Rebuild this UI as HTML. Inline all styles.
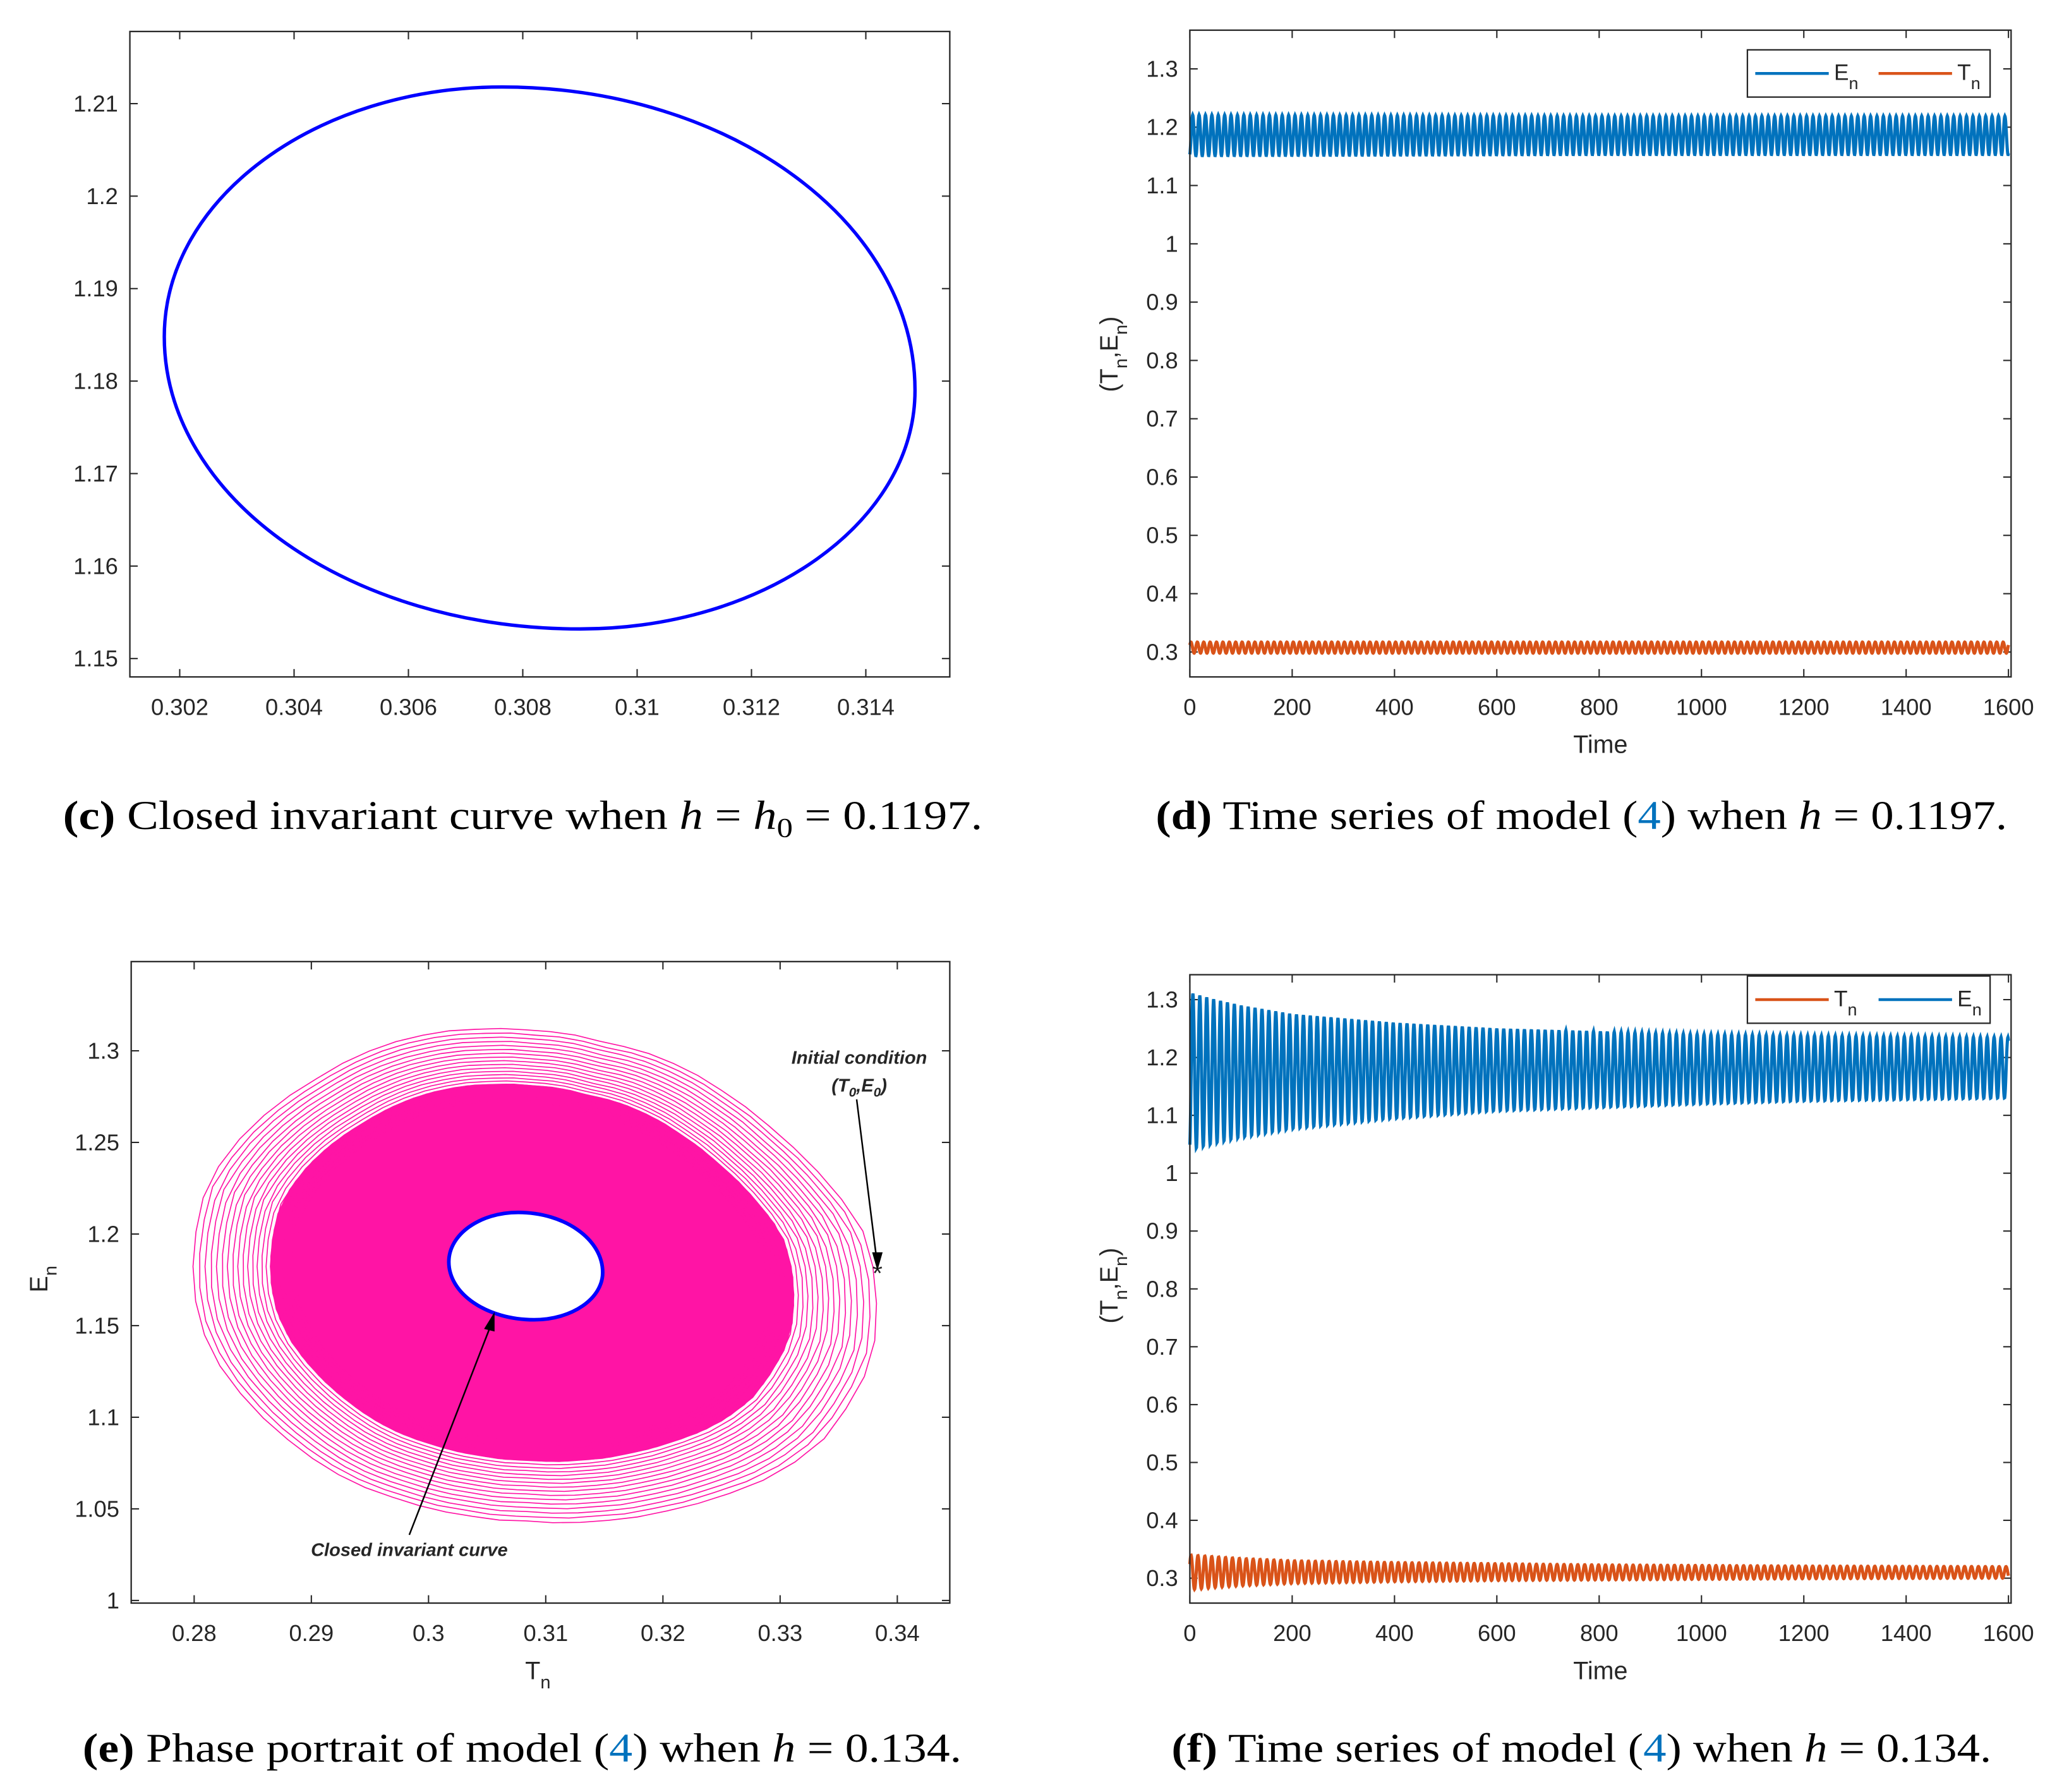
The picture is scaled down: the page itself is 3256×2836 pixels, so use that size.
<!DOCTYPE html>
<html><head><meta charset="utf-8">
<style>
html,body{margin:0;padding:0;background:#fff;}
svg{display:block;}
text{font-family:"Liberation Sans",Arial,sans-serif;fill:#262626;}
.cap{font-family:"Liberation Serif","Times New Roman",serif;fill:#000;}
</style></head>
<body>
<svg id="fig" xmlns="http://www.w3.org/2000/svg" width="3256" height="2836" viewBox="0 0 1568 1366" preserveAspectRatio="none">
<rect x="0" y="0" width="1568" height="1366" fill="#fff"/>
<text class="cap" x="48" y="632" font-size="31" textLength="701" lengthAdjust="spacingAndGlyphs"><tspan font-weight="bold">(c)</tspan> Closed invariant curve when <tspan font-style="italic">h</tspan> = <tspan font-style="italic">h</tspan><tspan font-size="21" dy="6">0</tspan><tspan dy="-6"> = 0.1197.</tspan></text>
<text class="cap" x="881" y="632" font-size="31" textLength="649" lengthAdjust="spacingAndGlyphs"><tspan font-weight="bold">(d)</tspan> Time series of model (<tspan fill="#0072BD">4</tspan>) when <tspan font-style="italic">h</tspan> = 0.1197.</text>
<text class="cap" x="63" y="1343" font-size="31" textLength="670" lengthAdjust="spacingAndGlyphs"><tspan font-weight="bold">(e)</tspan> Phase portrait of model (<tspan fill="#0072BD">4</tspan>) when <tspan font-style="italic">h</tspan> = 0.134.</text>
<text class="cap" x="893" y="1343" font-size="31" textLength="625" lengthAdjust="spacingAndGlyphs"><tspan font-weight="bold">(f)</tspan> Time series of model (<tspan fill="#0072BD">4</tspan>) when <tspan font-style="italic">h</tspan> = 0.134.</text>
</svg>
<script>
// ---- data ----
// extreme points of the closed invariant curve: left, top, right, bottom
const curveT = [0.30173,0.30764,0.31486,0.30900];
const curveE = [1.1848,1.2118,1.1790,1.1532];
const outerT = [0.27989,0.28011,0.28107,0.28376,0.28644,0.29020,0.29449,0.29932,0.30442,0.30898,0.31515,0.32132,0.32562,0.32991,0.33420,0.33689,0.33807,0.33823,0.33785,0.33582,0.33367,0.32991,0.32454,0.31972,0.31435,0.30871,0.30308,0.29771,0.29234,0.28859,0.28483,0.28215,0.28054];
const outerE = [1.1748,1.1993,1.2265,1.2510,1.2673,1.2837,1.2986,1.3082,1.3117,1.3109,1.3041,1.2918,1.2755,1.2537,1.2265,1.2047,1.1775,1.1557,1.1312,1.1067,1.0876,1.0699,1.0563,1.0482,1.0435,1.0435,1.0468,1.0550,1.0686,1.0849,1.1067,1.1285,1.1503];
const initT = 0.3383, initE = 1.180;
const cXTicks = [0.302,0.304,0.306,0.308,0.31,0.312,0.314];
const cXLabels = ["0.302","0.304","0.306","0.308","0.31","0.312","0.314"];
const cYTicks = [1.15,1.16,1.17,1.18,1.19,1.2,1.21];
const cYLabels = ["1.15","1.16","1.17","1.18","1.19","1.2","1.21"];
const eXTicks = [0.28,0.29,0.3,0.31,0.32,0.33,0.34];
const eXLabels = ["0.28","0.29","0.3","0.31","0.32","0.33","0.34"];
const eYTicks = [1,1.05,1.1,1.15,1.2,1.25,1.3];
const eYLabels = ["1","1.05","1.1","1.15","1.2","1.25","1.3"];
const tsXTicks = [0,200,400,600,800,1000,1200,1400,1600];
const tsXLabels = ["0","200","400","600","800","1000","1200","1400","1600"];
const tsYTicks = [0.3,0.4,0.5,0.6,0.7,0.8,0.9,1,1.1,1.2,1.3];
const tsYLabels = ["0.3","0.4","0.5","0.6","0.7","0.8","0.9","1","1.1","1.2","1.3"];
const dTimes = [0,400,800,1200,1600];
const dEUpper = [1.221,1.220,1.219,1.219,1.219];
const dELower = [1.151,1.152,1.153,1.153,1.153];
const dTUpper = [0.317,0.317,0.317,0.317,0.317];
const dTLower = [0.298,0.298,0.298,0.298,0.298];
const dPeriod = 12.5;
const fTimes = [0,50,100,200,400,600,800,1000,1200,1600];
const fEUpper = [1.312,1.300,1.290,1.275,1.260,1.250,1.245,1.240,1.238,1.235];
const fELower = [1.040,1.052,1.062,1.077,1.095,1.108,1.114,1.120,1.125,1.130];
const fTUpper = [0.340,0.337,0.334,0.330,0.327,0.325,0.323,0.322,0.321,0.320];
const fTLower = [0.280,0.284,0.287,0.291,0.294,0.296,0.297,0.298,0.299,0.300];
const fPeriod = 13.5;

const svg = document.getElementById('fig');
const NS = 'http://www.w3.org/2000/svg';
function mk(tag, attrs, name, parent){
  const e = document.createElementNS(NS, tag);
  for (const k in attrs) e.setAttribute(k, attrs[k]);
  
  
  (parent||svg).appendChild(e);
  return e;
}
function lin(d0,d1,p0,p1){ return v => p0 + (v-d0)/(d1-d0)*(p1-p0); }

function axes(o){
  const g = mk('g',{},o.name);
  const L=o.x0,R=o.x1,T=o.y0,B=o.y1,tl=6;
  o.xt.forEach((v,i)=>{
    const x=o.sx(v);
    mk('line',{x1:x,y1:B,x2:x,y2:B-tl,stroke:'#262626','stroke-width':1},'x-tick',g);
    mk('line',{x1:x,y1:T,x2:x,y2:T+tl,stroke:'#262626','stroke-width':1},'x-tick-top',g);
    const t=mk('text',{x:x,y:B+29,'font-size':17.5,'text-anchor':'middle'},'x-tick-label',g);
    t.textContent=o.xl[i];
  });
  o.yt.forEach((v,i)=>{
    const y=o.sy(v);
    mk('line',{x1:L,y1:y,x2:L+tl,y2:y,stroke:'#262626','stroke-width':1},'y-tick',g);
    mk('line',{x1:R,y1:y,x2:R-tl,y2:y,stroke:'#262626','stroke-width':1},'y-tick-right',g);
    const t=mk('text',{x:L-9,y:y+6,'font-size':17.5,'text-anchor':'end'},'y-tick-label',g);
    t.textContent=o.yl[i];
  });
  return g;
}
function box(o){
  mk('rect',{x:o.x0,y:o.y0,width:o.x1-o.x0,height:o.y1-o.y0,fill:'none',stroke:'#262626','stroke-width':1.1},o.name+'-frame');
}
function ovalPath(p){
  const k=0.5523;
  const [L,T,R,B]=p;
  let d=`M${L[0]},${L[1]}`;
  d+=`C${L[0]},${L[1]-k*(L[1]-T[1])} ${T[0]-k*(T[0]-L[0])},${T[1]} ${T[0]},${T[1]}`;
  d+=`C${T[0]+k*(R[0]-T[0])},${T[1]} ${R[0]},${R[1]-k*(R[1]-T[1])} ${R[0]},${R[1]}`;
  d+=`C${R[0]},${R[1]+k*(B[1]-R[1])} ${B[0]+k*(R[0]-B[0])},${B[1]} ${B[0]},${B[1]}`;
  d+=`C${B[0]-k*(B[0]-L[0])},${B[1]} ${L[0]},${L[1]+k*(B[1]-L[1])} ${L[0]},${L[1]}Z`;
  return d;
}
function ovalPoints(p,n){
  const k=0.5523,[L,T,R,B]=p;
  const segs=[
    [L,[L[0],L[1]-k*(L[1]-T[1])],[T[0]-k*(T[0]-L[0]),T[1]],T],
    [T,[T[0]+k*(R[0]-T[0]),T[1]],[R[0],R[1]-k*(R[1]-T[1])],R],
    [R,[R[0],R[1]+k*(B[1]-R[1])],[B[0]+k*(R[0]-B[0]),B[1]],B],
    [B,[B[0]-k*(B[0]-L[0]),B[1]],[L[0],L[1]+k*(B[1]-L[1])],L]];
  const out=[];
  segs.forEach(s=>{for(let i=0;i<n;i++){const t=i/n,u=1-t;
    out.push([u*u*u*s[0][0]+3*u*u*t*s[1][0]+3*u*t*t*s[2][0]+t*t*t*s[3][0],
              u*u*u*s[0][1]+3*u*u*t*s[1][1]+3*u*t*t*s[2][1]+t*t*t*s[3][1]]);}});
  return out;
}

// ---- panel c ----
(function(){
  const o={name:'panel-c-axes',x0:99,x1:724,y0:24,y1:516};
  o.sx=lin(0.302,0.314,137,660); o.sy=lin(1.15,1.21,502,79);
  o.xt=cXTicks;o.xl=cXLabels;o.yt=cYTicks;o.yl=cYLabels;
  axes(o);
  const pts=curveT.map((t,i)=>[o.sx(t),o.sy(curveE[i])]);
  mk('path',{d:ovalPath(pts),fill:'none',stroke:'#0000ff','stroke-width':2.6},'closed-invariant-curve');
  box(o);
})();

// ---- panel e ----
(function(){
  const o={name:'panel-e-axes',x0:100,x1:724,y0:733,y1:1222};
  o.sx=lin(0.28,0.34,148,684); o.sy=lin(1.0,1.3,1220,801);
  o.xt=eXTicks;o.xl=eXLabels;o.yt=eYTicks;o.yl=eYLabels;
  axes(o);
  const outer=outerT.map((t,i)=>[o.sx(t),o.sy(outerE[i])]);
  const ext=curveT.map((t,i)=>[o.sx(t),o.sy(curveE[i])]);
  const inner=ovalPoints(ext,16);
  const cx=inner.reduce((s,p)=>s+p[0],0)/inner.length, cy=inner.reduce((s,p)=>s+p[1],0)/inner.length;
  function radial(poly){
    const arr=poly.map(p=>({a:Math.atan2(p[1]-cy,p[0]-cx),r:Math.hypot(p[0]-cx,p[1]-cy)})).sort((a,b)=>a.a-b.a);
    return function(a){
      const n=arr.length;
      for(let i=0;i<n;i++){
        const p=arr[i],q=arr[(i+1)%n];
        let a0=p.a,a1=q.a; if(i==n-1)a1+=2*Math.PI;
        let aa=a; if(aa<a0)aa+=2*Math.PI;
        if(aa>=a0&&aa<=a1){const f=(aa-a0)/(a1-a0||1);return p.r+(q.r-p.r)*f;}
      }
      return arr[0].r;
    };
  }
  const rO=radial(outer), rI=radial(inner);
  const g=mk('g',{},'spiral-trajectory');
  const N=60;
  function ring(f,rot){
    let pts=[];
    for(let k=0;k<N;k++){
      const a=-Math.PI+2*Math.PI*k/N+rot;
      const r=rI(a)+(rO(a)-rI(a))*f;
      pts.push([cx+r*Math.cos(a),cy+r*Math.sin(a)]);
    }
    return pts;
  }
  const core=ring(0.7,0).map(p=>p.join(',')).join(' ');
  mk('polygon',{points:core,fill:'#ff14a5',stroke:'none'},'spiral-dense-core',g);
  for(let k=0;k<80;k++){
    const f=Math.exp(-k*0.024);
    if(f<0.6)break;
    const pts=ring(f,(k%2)*0.04).map(p=>p.join(',')).join(' ');
    mk('polygon',{points:pts,fill:'none',stroke:'#ff14a5','stroke-width':0.8},'spiral-ring',g);
  }
  mk('path',{d:ovalPath(ext),fill:'#fff',stroke:'#0000ff','stroke-width':2.8},'closed-invariant-curve-e');
  const ix=o.sx(initT), iy=o.sy(initE);
  const star=mk('text',{x:ix,y:iy+9,'font-size':20,'text-anchor':'middle',fill:'#000'},'initial-condition-marker');
  star.textContent='*';
  mk('line',{x1:653,y1:838,x2:ix,y2:iy-4,stroke:'#000','stroke-width':1.2},'initial-condition-arrow');
  mk('polygon',{points:`${ix},${iy} ${ix-4},${iy-14} ${ix+4},${iy-14}`,fill:'#000'},'initial-condition-arrowhead');
  const t1=mk('text',{x:655,y:811,'font-size':14,'font-weight':'bold','font-style':'italic','text-anchor':'middle',fill:'#000'},'initial-condition-label');
  t1.textContent='Initial condition';
  const t2=mk('text',{x:655,y:832,'font-size':14,'font-weight':'bold','font-style':'italic','text-anchor':'middle',fill:'#000'},'initial-condition-coords');
  t2.innerHTML='(T<tspan font-size="10" dy="4">0</tspan><tspan dy="-4">,E</tspan><tspan font-size="10" dy="4">0</tspan><tspan dy="-4">)</tspan>';
  mk('line',{x1:312,y1:1170,x2:375,y2:1008,stroke:'#000','stroke-width':1.2},'closed-curve-arrow');
  mk('polygon',{points:'377,1000 369,1013 377,1015',fill:'#000'},'closed-curve-arrowhead');
  const t3=mk('text',{x:312,y:1186,'font-size':14,'font-weight':'bold','font-style':'italic','text-anchor':'middle',fill:'#000'},'closed-curve-label');
  t3.textContent='Closed invariant curve';
  const xl=mk('text',{x:410,y:1280,'font-size':19,'text-anchor':'middle'},'x-axis-title-e');
  xl.innerHTML='T<tspan font-size="14" dy="7">n</tspan>';
  const yl=mk('text',{x:0,y:0,'font-size':19,'text-anchor':'middle',transform:'translate(36,975) rotate(-90)'},'y-axis-title-e');
  yl.innerHTML='E<tspan font-size="14" dy="7">n</tspan>';
  box(o);
})();

// ---- time series panels ----
function interp(times,vals,t){
  for(let i=0;i<times.length-1;i++){
    if(t<=times[i+1]){const f=(t-times[i])/(times[i+1]-times[i]);return vals[i]+(vals[i+1]-vals[i])*f;}
  }
  return vals[vals.length-1];
}
function series(o,times,up,lo,period,color,name,phase){
  let d='';
  for(let t=0;t<=1600;t+=0.5){
    const u=interp(times,up,t),l=interp(times,lo,t);
    const v=(u+l)/2+(u-l)/2*Math.sin(2*Math.PI*t/period+phase);
    d+=(t==0?'M':'L')+o.sx(t).toFixed(2)+','+o.sy(v).toFixed(2);
  }
  mk('path',{d:d,fill:'none',stroke:color,'stroke-width':2.4},name);
}
function tsPanel(o,entries,legend){
  o.sx=lin(0,1600,907,1531);
  o.xt=tsXTicks;o.xl=tsXLabels;o.yt=tsYTicks;o.yl=tsYLabels;
  axes(o);
  entries.forEach(e=>series(o,e.times,e.up,e.lo,e.period,e.color,e.name,e.phase));
  const xl=mk('text',{x:1220,y:o.y1+58,'font-size':19,'text-anchor':'middle'},o.name+'-x-title');
  xl.textContent='Time';
  const yl=mk('text',{x:0,y:0,'font-size':19,'text-anchor':'middle',transform:`translate(852,${o.ymid}) rotate(-90)`},o.name+'-y-title');
  yl.innerHTML='(T<tspan font-size="14" dy="7">n</tspan><tspan dy="-7">,E</tspan><tspan font-size="14" dy="7">n</tspan><tspan dy="-7">)</tspan>';
  const lg=mk('g',{},'legend');
  mk('rect',{x:1332,y:legend.y,width:185,height:36,fill:'#fff',stroke:'#262626','stroke-width':1.1},'legend-box',lg);
  legend.items.forEach((it,i)=>{
    const x=1338+i*94;
    mk('line',{x1:x,y1:legend.y+18,x2:x+56,y2:legend.y+18,stroke:it.color,'stroke-width':2.2},'legend-swatch',lg);
    const t=mk('text',{x:x+60,y:legend.y+23,'font-size':17},'legend-entry',lg);
    t.innerHTML=it.label+'<tspan font-size="13" dy="7">n</tspan>';
  });
  box(o);
}
(function(){
  const o={name:'panel-d-axes',x0:907,x1:1533,y0:23,y1:516,ymid:270};
  o.sy=lin(0.3,1.3,497,52.5);
  tsPanel(o,[
    {times:dTimes,up:dEUpper,lo:dELower,period:dPeriod,color:'#0072BD',name:'series-E-d',phase:-1.2},
    {times:dTimes,up:dTUpper,lo:dTLower,period:dPeriod,color:'#D95319',name:'series-T-d',phase:0.5}
  ],{y:38,items:[{label:'E',color:'#0072BD'},{label:'T',color:'#D95319'}]});
})();
(function(){
  const o={name:'panel-f-axes',x0:907,x1:1533,y0:743,y1:1222,ymid:980};
  o.sy=lin(0.3,1.3,1203,762);
  tsPanel(o,[
    {times:fTimes,up:fTUpper,lo:fTLower,period:fPeriod,color:'#D95319',name:'series-T-f',phase:0.5},
    {times:fTimes,up:fEUpper,lo:fELower,period:fPeriod,color:'#0072BD',name:'series-E-f',phase:-1.2}
  ],{y:744,items:[{label:'T',color:'#D95319'},{label:'E',color:'#0072BD'}]});
})();
</script>
</body></html>
